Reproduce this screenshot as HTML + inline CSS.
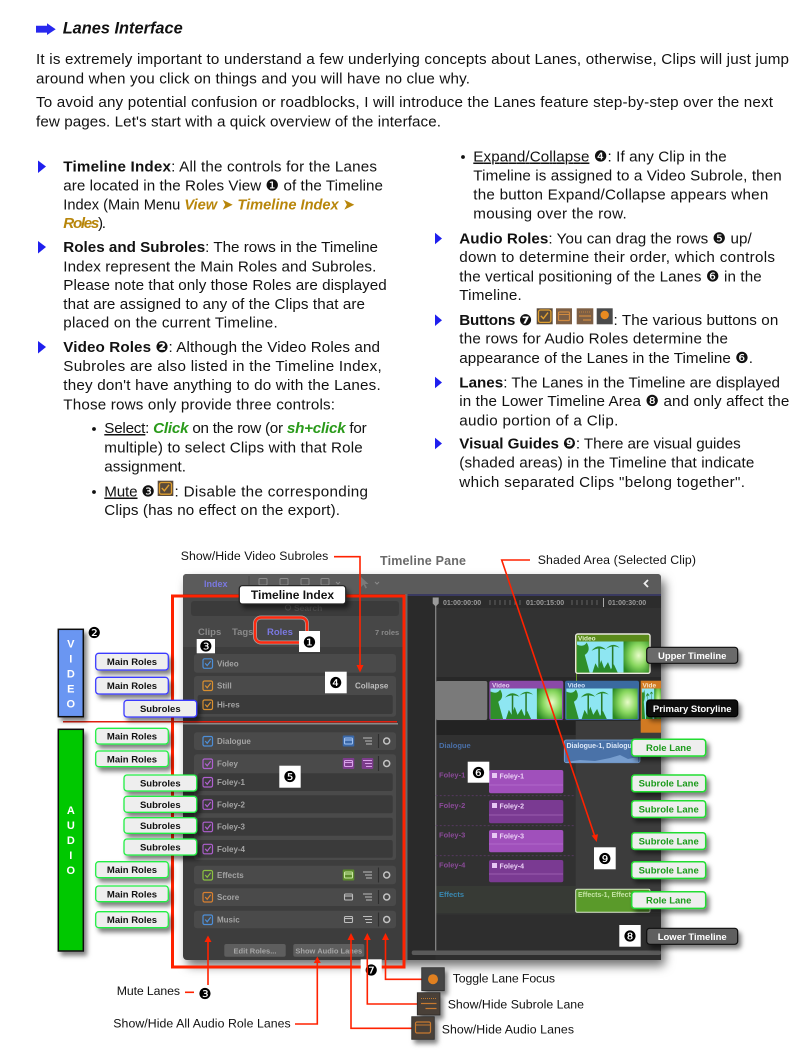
<!DOCTYPE html>
<html><head><meta charset="utf-8">
<style>
html,body{margin:0;padding:0;background:#fff;}
svg{display:block;}
text{font-family:"Liberation Sans","DejaVu Sans",sans-serif;}
.t{font-size:15.2px;fill:#111;}
.b{font-weight:bold;}
.gold{fill:#b8860b;font-weight:bold;font-style:italic;}
.grn{fill:#2a9a1a;font-weight:bold;font-style:italic;}
.ann{font-size:12.3px;fill:#111;}
.lbl{font-size:9.5px;font-weight:bold;text-anchor:middle;}
.ui{font-size:8px;font-weight:bold;fill:#a4a4a4;}
.badge{font-family:"DejaVu Sans",sans-serif;font-size:15px;text-anchor:middle;fill:#000;}
.vl{font-size:11px;font-weight:bold;fill:#fff;text-anchor:middle;}
.lane{font-size:7.5px;font-weight:bold;}
.rl{stroke:#ff2200;stroke-width:1.6;fill:none;}
</style></head><body>
<svg width="807" height="1054" viewBox="0 0 807 1054">
<defs>
<filter id="sh" x="-30%" y="-40%" width="170%" height="200%"><feDropShadow dx="3" dy="4" stdDeviation="2.5" flood-color="#000" flood-opacity="0.5"/></filter>
<filter id="psh" x="-10%" y="-10%" width="125%" height="125%"><feDropShadow dx="4" dy="6" stdDeviation="5" flood-color="#000" flood-opacity="0.55"/></filter>
<radialGradient id="gg" cx="0.6" cy="0.45" r="0.7"><stop offset="0" stop-color="#e8fcc8"/><stop offset="0.5" stop-color="#8ad860"/><stop offset="1" stop-color="#2a8a22"/></radialGradient>
<symbol id="th" viewBox="0 0 74 30" preserveAspectRatio="none">
<rect width="74" height="30" fill="#8ee6f2"/>
<path d="M0,30 L0,3 Q7,6 10,1 Q15,9 8,13 L13,30Z" fill="#2f8f2a"/>
<rect x="22" y="6" width="1.6" height="24" fill="#2a7a2a"/>
<path d="M15,9 Q22,1 30,8 Q22,5 15,9Z" fill="#2a8a2a"/>
<rect x="36" y="4" width="1.6" height="26" fill="#2a7a2a"/>
<path d="M30,7 Q37,0 44,6 Q37,3 30,7Z" fill="#2a8a2a"/>
<path d="M16,30 L19,21 L22,26 L25,18 L28,26 L32,20 L35,27 L38,22 L42,30Z" fill="#2a8a2a"/>
<rect x="48" width="26" height="30" fill="url(#gg)"/>
</symbol>
</defs>

<!-- ===== Header ===== -->
<path d="M36,25.7 H47 V23.3 L55.7,29.2 L47,35 V32.6 H36Z" fill="#2828ee"/>
<text x="62.7" y="33.5" font-size="16.5" font-weight="bold" font-style="italic" fill="#111" textLength="120" lengthAdjust="spacingAndGlyphs">Lanes Interface</text>

<text class="t" x="36" y="64" textLength="753">It is extremely important to understand a few underlying concepts about Lanes, otherwise, Clips will just jump</text>
<text class="t" x="36" y="83.5" textLength="434">around when you click on things and you will have no clue why.</text>
<text class="t" x="36" y="107" textLength="737">To avoid any potential confusion or roadblocks, I will introduce the Lanes feature step-by-step over the next</text>
<text class="t" x="36" y="126.5" textLength="405">few pages. Let's start with a quick overview of the interface.</text>

<!-- ===== Left column ===== -->
<g fill="#1f1fee">
<path d="M38,160.5 L46,166.5 L38,173Z"/>
<path d="M38,241 L46,247 L38,253.5Z"/>
<path d="M38,341 L46,347 L38,353.5Z"/>
<path d="M435,232.7 L442,238.5 L435,244.2Z"/>
<path d="M435,314.4 L442,320.2 L435,326Z"/>
<path d="M435,376.7 L442,382.5 L435,388.2Z"/>
<path d="M435,437.7 L442,443.5 L435,449.2Z"/>
</g>
<text class="t" x="63.3" y="171.5" textLength="313.7"><tspan class="b">Timeline Index</tspan>: All the controls for the Lanes</text>
<text class="t" x="63.3" y="190.5" textLength="319.7">are located in the Roles View ❶ of the Timeline</text>
<text class="t" x="63.3" y="209.5" textLength="291.7" lengthAdjust="spacingAndGlyphs">Index (Main Menu <tspan class="gold">View ➤ Timeline Index ➤</tspan></text>
<text class="t" x="63.3" y="228" textLength="42.7"><tspan class="gold">Roles</tspan>).</text>
<text class="t" x="63.3" y="252" textLength="314.7"><tspan class="b">Roles and Subroles</tspan>: The rows in the Timeline</text>
<text class="t" x="63.3" y="271.5" textLength="313">Index represent the Main Roles and Subroles.</text>
<text class="t" x="63.3" y="290" textLength="323.4">Please note that only those Roles are displayed</text>
<text class="t" x="63.3" y="309" textLength="301.7">that are assigned to any of the Clips that are</text>
<text class="t" x="63.3" y="327.5" textLength="214.4">placed on the current Timeline.</text>
<text class="t" x="63.3" y="352" textLength="316.7"><tspan class="b">Video Roles ❷</tspan>: Although the Video Roles and</text>
<text class="t" x="63.3" y="371" textLength="318.4">Subroles are also listed in the Timeline Index,</text>
<text class="t" x="63.3" y="390" textLength="317.4">they don't have anything to do with the Lanes.</text>
<text class="t" x="63.3" y="409.5" textLength="271.7">Those rows only provide three controls:</text>
<circle cx="94" cy="429" r="1.9" fill="#111"/>
<text class="t" x="104.3" y="433" textLength="262.4"><tspan text-decoration="underline">Select</tspan>: <tspan class="grn">Click</tspan> on the row (or <tspan class="grn">sh+click</tspan> for</text>
<text class="t" x="104.3" y="452.5" textLength="258.4">multiple) to select Clips with that Role</text>
<text class="t" x="104.3" y="471.5" textLength="81.7">assignment.</text>
<circle cx="94" cy="492" r="1.9" fill="#111"/>
<text class="t" x="104.3" y="496.5" textLength="50.7"><tspan text-decoration="underline">Mute</tspan> ❸</text>
<rect x="157.7" y="480.7" width="15.6" height="15.3" fill="#5a4a3a"/>
<rect x="159.5" y="482.5" width="12" height="11.7" rx="2" fill="none" stroke="#e0a030" stroke-width="1.3"/>
<path d="M161.8,488 l2.6,2.8 l4.6,-6" fill="none" stroke="#e0a030" stroke-width="1.4"/>
<text class="t" x="174.5" y="496.5" textLength="193.5">: Disable the corresponding</text>
<text class="t" x="104.3" y="515" textLength="235.7">Clips (has no effect on the export).</text>

<!-- ===== Right column ===== -->
<circle cx="463" cy="157" r="1.9" fill="#111"/>
<text class="t" x="473.3" y="161.5" textLength="253.4"><tspan text-decoration="underline">Expand/Collapse</tspan> ❹: If any Clip in the</text>
<text class="t" x="473.3" y="180.5" textLength="308.4">Timeline is assigned to a Video Subrole, then</text>
<text class="t" x="473.3" y="199.5" textLength="295">the button Expand/Collapse appears when</text>
<text class="t" x="473.3" y="218.5" textLength="153.4">mousing over the row.</text>
<text class="t" x="459.3" y="243.3" textLength="292.4"><tspan class="b">Audio Roles</tspan>: You can drag the rows ❺ up/</text>
<text class="t" x="459.3" y="262" textLength="315.7">down to determine their order, which controls</text>
<text class="t" x="459.3" y="281.5" textLength="302.4">the vertical positioning of the Lanes ❻ in the</text>
<text class="t" x="459.3" y="300" textLength="62.4">Timeline.</text>
<text class="t" x="459.3" y="325" textLength="72.7"><tspan class="b">Buttons ❼</tspan></text>
<!-- button icons -->
<rect x="536.7" y="308.3" width="16" height="16" fill="#5a4a3a"/>
<rect x="538.5" y="310" width="12.4" height="12.4" rx="2" fill="none" stroke="#e0a030" stroke-width="1.3"/>
<path d="M540.8,315.8 l2.6,2.8 l4.6,-6" fill="none" stroke="#e0a030" stroke-width="1.4"/>
<rect x="556" y="308.3" width="16" height="16" fill="#7d5f45"/>
<rect x="558.5" y="312" width="11" height="8.5" rx="1" fill="none" stroke="#d08a40" stroke-width="1.2"/>
<line x1="558.5" y1="314.5" x2="569.5" y2="314.5" stroke="#d08a40" stroke-width="1"/>
<rect x="576.7" y="308.3" width="16.6" height="16" fill="#7d5f45"/>
<line x1="579" y1="312" x2="591" y2="312" stroke="#c08040" stroke-width="1" stroke-dasharray="1,1"/>
<line x1="579" y1="316" x2="591" y2="316" stroke="#d08a40" stroke-width="1.2"/>
<line x1="583" y1="320" x2="591" y2="320" stroke="#d08a40" stroke-width="1.2"/>
<rect x="596.7" y="308.3" width="16" height="16" fill="#4a4a4a"/>
<circle cx="604.7" cy="315" r="4.2" fill="#e88a20"/>
<text class="t" x="613.5" y="325" textLength="164.8">: The various buttons on</text>
<text class="t" x="459.3" y="343.5" textLength="268.7">the rows for Audio Roles determine the</text>
<text class="t" x="459.3" y="363" textLength="293.7">appearance of the Lanes in the Timeline ❻.</text>
<text class="t" x="459.3" y="387.3" textLength="320.7"><tspan class="b">Lanes</tspan>: The Lanes in the Timeline are displayed</text>
<text class="t" x="459.3" y="406" textLength="330">in the Lower Timeline Area ❽ and only affect the</text>
<text class="t" x="459.3" y="425.5" textLength="159">audio portion of a Clip.</text>
<text class="t" x="459.3" y="448.3" textLength="281.4"><tspan class="b">Visual Guides ❾</tspan>: There are visual guides</text>
<text class="t" x="459.3" y="467.3" textLength="295">(shaded areas) in the Timeline that indicate</text>
<text class="t" x="459.3" y="487" textLength="285.7">which separated Clips "belong together".</text>

<!-- ===== Diagram ===== -->
<text class="ann" x="180.7" y="560" textLength="147.6">Show/Hide Video Subroles</text>
<text x="380" y="565" font-size="12.5" font-weight="bold" fill="#6a6a6a" textLength="86">Timeline Pane</text>
<text class="ann" x="537.7" y="564" textLength="158.3">Shaded Area  (Selected Clip)</text>

<!-- panel -->
<rect x="183" y="574" width="478" height="386" rx="4" fill="#3d3d3d" filter="url(#psh)"/>
<rect x="183" y="574" width="478" height="20" rx="3" fill="#5b5b5b"/>
<rect x="183" y="584" width="478" height="10" fill="#5b5b5b"/>
<text x="204" y="587" font-size="9" font-weight="bold" fill="#7a78e0">Index</text>
<line x1="249" y1="576" x2="249" y2="593" stroke="#4a4a4a" stroke-width="1"/>
<g fill="none" stroke="#8a8a8a" stroke-width="1">
<rect x="259" y="578.5" width="8" height="6.5" rx="1"/>
<rect x="280" y="578.5" width="8" height="6.5" rx="1"/>
<rect x="301" y="578.5" width="8" height="6.5" rx="1"/>
<rect x="321" y="578.5" width="8" height="6.5" rx="1"/>
<path d="M336,582 l2,2 l2,-2"/>
<path d="M375,582 l2,2 l2,-2"/>
</g>
<path d="M361,577 l0,10 l2.5,-2.5 l2,4 l1.5,-0.8 l-2,-3.7 l3.5,0Z" fill="#7a7a7a"/>
<path d="M648,580 l-3.5,3.5 l3.5,3.5" fill="none" stroke="#eee" stroke-width="1.8"/>
<rect x="405" y="594" width="256" height="2" fill="#3a3a60"/>

<!-- index panel -->
<rect x="183" y="594" width="222" height="53" fill="#474747"/>
<rect x="191" y="601" width="208" height="15" rx="3" fill="#3b3b3b"/>
<circle cx="288" cy="607.5" r="2.6" fill="none" stroke="#5a5a5a" stroke-width="1"/>
<text x="294" y="611" font-size="8.5" font-weight="bold" fill="#555">Search</text>
<text x="198" y="635" font-size="9.5" font-weight="bold" fill="#8a8a8a">Clips</text>
<text x="232" y="635" font-size="9.5" font-weight="bold" fill="#8a8a8a">Tags</text>
<text x="267" y="635" font-size="9.5" font-weight="bold" fill="#7a78e0">Roles</text>
<text x="375" y="635" font-size="7.5" font-weight="bold" fill="#8a8a8a">7 roles</text>
<rect x="255" y="617.5" width="52" height="25" rx="6" fill="none" stroke="#fff" stroke-width="4" opacity="0.5"/>
<rect x="255" y="617.5" width="52" height="25" rx="6" fill="none" stroke="#ff2a10" stroke-width="2.5"/>

<!-- video rows -->
<rect x="194" y="654" width="202" height="18.7" rx="3" fill="#4a4a4a"/>
<rect x="194" y="676" width="202" height="40.7" rx="3" fill="#4a4a4a"/>
<rect x="197.7" y="695" width="195" height="19" rx="2" fill="#3a3a3a"/>
<g fill="none" stroke-width="1.2">
<rect x="203" y="658.8" width="9.5" height="9.5" rx="1.5" stroke="#4d8fd8"/><path d="M205.2,663.3 l2,2.3 l3.5,-4.5" stroke="#4d8fd8"/>
<rect x="203" y="681" width="9.5" height="9.5" rx="1.5" stroke="#d99030"/><path d="M205.2,685.5 l2,2.3 l3.5,-4.5" stroke="#d99030"/>
<rect x="203" y="700" width="9.5" height="9.5" rx="1.5" stroke="#d99030"/><path d="M205.2,704.5 l2,2.3 l3.5,-4.5" stroke="#d99030"/>
</g>
<text class="ui" x="217" y="666.3">Video</text>
<text class="ui" x="217" y="688.5">Still</text>
<text class="ui" x="217" y="707.5">Hi-res</text>
<text x="355" y="688.5" font-size="8" font-weight="bold" fill="#bdbdbd">Collapse</text>
<rect x="183" y="723" width="215" height="1.5" fill="#8a8a8a"/>

<!-- audio rows -->
<rect x="194" y="732.3" width="202" height="17.7" rx="3" fill="#4a4a4a"/>
<rect x="194" y="754.3" width="202" height="105.7" rx="3" fill="#4a4a4a"/>
<rect x="197.7" y="773.3" width="195" height="17.7" rx="2" fill="#3a3a3a"/>
<rect x="197.7" y="795.3" width="195" height="18" rx="2" fill="#3a3a3a"/>
<rect x="197.7" y="817.7" width="195" height="18" rx="2" fill="#3a3a3a"/>
<rect x="197.7" y="840" width="195" height="17.7" rx="2" fill="#3a3a3a"/>
<rect x="194" y="865.7" width="202" height="18.6" rx="3" fill="#4a4a4a"/>
<rect x="194" y="888.3" width="202" height="17.7" rx="3" fill="#4a4a4a"/>
<rect x="194" y="910.7" width="202" height="17.6" rx="3" fill="#4a4a4a"/>
<g fill="none" stroke-width="1.2">
<rect x="203" y="736.5" width="9.5" height="9.5" rx="1.5" stroke="#4d8fd8"/><path d="M205.2,741 l2,2.3 l3.5,-4.5" stroke="#4d8fd8"/>
<rect x="203" y="759" width="9.5" height="9.5" rx="1.5" stroke="#b060d0"/><path d="M205.2,763.5 l2,2.3 l3.5,-4.5" stroke="#b060d0"/>
<rect x="203" y="777.5" width="9.5" height="9.5" rx="1.5" stroke="#b060d0"/><path d="M205.2,782 l2,2.3 l3.5,-4.5" stroke="#b060d0"/>
<rect x="203" y="799.8" width="9.5" height="9.5" rx="1.5" stroke="#b060d0"/><path d="M205.2,804.3 l2,2.3 l3.5,-4.5" stroke="#b060d0"/>
<rect x="203" y="822.2" width="9.5" height="9.5" rx="1.5" stroke="#b060d0"/><path d="M205.2,826.7 l2,2.3 l3.5,-4.5" stroke="#b060d0"/>
<rect x="203" y="844.3" width="9.5" height="9.5" rx="1.5" stroke="#b060d0"/><path d="M205.2,848.8 l2,2.3 l3.5,-4.5" stroke="#b060d0"/>
<rect x="203" y="870.5" width="9.5" height="9.5" rx="1.5" stroke="#8ac040"/><path d="M205.2,875 l2,2.3 l3.5,-4.5" stroke="#8ac040"/>
<rect x="203" y="892.5" width="9.5" height="9.5" rx="1.5" stroke="#d98030"/><path d="M205.2,897 l2,2.3 l3.5,-4.5" stroke="#d98030"/>
<rect x="203" y="915" width="9.5" height="9.5" rx="1.5" stroke="#4d8fd8"/><path d="M205.2,919.5 l2,2.3 l3.5,-4.5" stroke="#4d8fd8"/>
</g>
<text class="ui" x="217" y="744">Dialogue</text>
<text class="ui" x="217" y="766.5">Foley</text>
<text class="ui" x="217" y="785">Foley-1</text>
<text class="ui" x="217" y="807.3">Foley-2</text>
<text class="ui" x="217" y="829.7">Foley-3</text>
<text class="ui" x="217" y="851.8">Foley-4</text>
<text class="ui" x="217" y="878">Effects</text>
<text class="ui" x="217" y="900">Score</text>
<text class="ui" x="217" y="922.5">Music</text>
<!-- row icons -->
<rect x="342.7" y="735.5" width="11.6" height="11" rx="1" fill="#3a68a8"/>
<rect x="342.7" y="758" width="11.6" height="11" rx="1" fill="#7c3c8c"/>
<rect x="361.7" y="758" width="11.6" height="11" rx="1" fill="#7c3c8c"/>
<rect x="342.7" y="869.5" width="11.6" height="11" rx="1" fill="#5a8a2a"/>
<g fill="none" stroke-width="1.1">
<g stroke="#9ec0f0"><rect x="344.5" y="738" width="8" height="6" rx="1"/><line x1="344.5" y1="740" x2="352.5" y2="740"/></g>
<g stroke="#d8a0e8"><rect x="344.5" y="760.5" width="8" height="6" rx="1"/><line x1="344.5" y1="762.5" x2="352.5" y2="762.5"/></g>
<g stroke="#c8e8a0"><rect x="344.5" y="872" width="8" height="6" rx="1"/><line x1="344.5" y1="874" x2="352.5" y2="874"/></g>
<g stroke="#bcbcbc"><rect x="344.5" y="894" width="8" height="6" rx="1"/><line x1="344.5" y1="896" x2="352.5" y2="896"/></g>
<g stroke="#bcbcbc"><rect x="344.5" y="916.5" width="8" height="6" rx="1"/><line x1="344.5" y1="918.5" x2="352.5" y2="918.5"/></g>
<g stroke="#bcbcbc"><path d="M363,738 h9 M365,741 h7 M366,744 h6"/><path d="M363,872 h9 M365,875 h7 M366,878 h6"/><path d="M363,894 h9 M365,897 h7 M366,900 h6"/><path d="M363,916.5 h9 M365,919.5 h7 M366,922.5 h6"/></g>
<g stroke="#d8a0e8"><path d="M363,760.5 h9 M365,763.5 h7 M366,766.5 h6"/></g>
<g stroke="#2e2e2e"><line x1="378.5" y1="734" x2="378.5" y2="748"/><line x1="378.5" y1="756" x2="378.5" y2="771"/><line x1="378.5" y1="867.5" x2="378.5" y2="882.5"/><line x1="378.5" y1="890" x2="378.5" y2="904"/><line x1="378.5" y1="912.5" x2="378.5" y2="926.5"/></g>
<g stroke="#c4c4c4" stroke-width="1.5"><circle cx="386.7" cy="741" r="3"/><circle cx="386.7" cy="763.5" r="3"/><circle cx="386.7" cy="875" r="3"/><circle cx="386.7" cy="897" r="3"/><circle cx="386.7" cy="919.5" r="3"/></g>
</g>
<rect x="224.3" y="944" width="61.4" height="12.7" rx="2" fill="#5e5e5e"/>
<text x="255" y="953.3" font-size="7.5" font-weight="bold" fill="#a6a6a6" text-anchor="middle">Edit Roles...</text>
<rect x="293.3" y="944" width="71" height="12.7" rx="2" fill="#5e5e5e"/>
<text x="328.8" y="953.3" font-size="7.5" font-weight="bold" fill="#a6a6a6" text-anchor="middle">Show Audio Lanes</text>

<!-- timeline area -->
<rect x="407" y="596" width="254" height="364" fill="#323232"/>
<rect x="407" y="596" width="28.7" height="364" fill="#2a2a2a"/>
<rect x="435.7" y="596" width="225.3" height="12" fill="#2c2c2c"/>
<rect x="435.7" y="677" width="225.3" height="44" fill="#282828"/>
<rect x="435.7" y="721" width="225.3" height="14" fill="#232323"/>
<rect x="435.7" y="735" width="225.3" height="180" fill="#313131"/>
<rect x="435.7" y="886" width="225.3" height="27.3" fill="#373a35"/>
<rect x="575.7" y="721" width="85.3" height="192" fill="#3c3c3c"/>
<rect x="435.7" y="915" width="225.3" height="45" fill="#2e2e2e"/>
<rect x="405" y="594" width="2.5" height="366" fill="#686868"/>
<g font-size="7" font-weight="bold" fill="#9a9a9a">
<text x="443" y="605">01:00:00:00</text>
<text x="526" y="605">01:00:15:00</text>
<text x="608" y="605">01:00:30:00</text>
</g>
<g stroke="#707070" stroke-width="0.8">
<path d="M490,600v5 M495,600v5 M500,600v5 M505,600v5 M510,600v5 M515,600v5 M520,600v5 M572,600v5 M577,600v5 M582,600v5 M587,600v5 M592,600v5 M597,600v5"/>
</g>
<line x1="603.5" y1="598" x2="603.5" y2="607" stroke="#aaa" stroke-width="1"/>
<line x1="435.7" y1="604" x2="435.7" y2="952" stroke="#8a8a8a" stroke-width="1.2"/>
<path d="M432.7,597.5 h6 v6 l-3,3 l-3,-3Z" fill="#9a9a9a"/>
<!-- lane dividers -->
<g stroke="#5a3a66" stroke-width="0.8" stroke-dasharray="2,2">
<line x1="435.7" y1="795.7" x2="575.7" y2="795.7"/>
<line x1="435.7" y1="825.7" x2="575.7" y2="825.7"/>
<line x1="435.7" y1="855.7" x2="575.7" y2="855.7"/>
</g>
<rect x="411.7" y="950.5" width="249.3" height="4.5" rx="2" fill="#5a5a5a"/>

<!-- storyline clips -->
<rect x="435.7" y="681" width="51.6" height="39" rx="2" fill="#7a7a7a"/>
<rect x="489.3" y="680.7" width="74" height="39.3" rx="2" fill="#8a4aa8"/>
<text x="492" y="687.3" font-size="6.5" font-weight="bold" fill="#e4ccf0">Video</text>
<use href="#th" x="490.5" y="688.5" width="71.5" height="30.5"/>
<rect x="565" y="680.7" width="74" height="39.3" rx="2" fill="#3a6aa0"/>
<text x="567.5" y="687.3" font-size="6.5" font-weight="bold" fill="#d0e0f8">Video</text>
<use href="#th" x="566.2" y="688.5" width="71.5" height="30.5"/>
<rect x="640.7" y="680.7" width="20.3" height="52" fill="#d27a22"/>
<text x="642.5" y="687.3" font-size="6.5" font-weight="bold" fill="#f8e0c0">Vide</text>
<use href="#th" x="641.7" y="688.5" width="19.3" height="30.5"/>
<line x1="576.5" y1="673" x2="576.5" y2="681" stroke="#6a9a2a" stroke-width="1"/>
<!-- upper clip -->
<rect x="575.7" y="634" width="74.3" height="39.3" rx="2" fill="#5a8a1a" stroke="#e8e8dc" stroke-width="1.4"/>
<text x="578" y="640.3" font-size="6.5" font-weight="bold" fill="#e0f0c8">Video</text>
<use href="#th" x="577" y="641.5" width="71.7" height="31"/>

<!-- lanes -->
<text class="lane" x="439" y="748" fill="#4a70a8">Dialogue</text>
<rect x="564.3" y="740" width="75.7" height="22.7" rx="2" fill="#4a72a8" stroke="#7ea4d4" stroke-width="0.8"/>
<text x="566.5" y="748" font-size="7" font-weight="bold" fill="#dce8f8">Dialogue-1, Dialogu</text>
<path d="M566,762 L580,760 L595,761 L610,758 L620,755 L628,759 L638,757 L638,762Z" fill="#8ab0e0" opacity="0.7"/>
<text class="lane" x="439" y="777.5" fill="#8a4a98">Foley-1</text>
<text class="lane" x="439" y="808" fill="#8a4a98">Foley-2</text>
<text class="lane" x="439" y="837.5" fill="#8a4a98">Foley-3</text>
<text class="lane" x="439" y="867.5" fill="#8a4a98">Foley-4</text>
<rect x="489" y="770" width="74.3" height="23.3" rx="2" fill="#a050bb"/>
<rect x="489" y="800" width="74.3" height="23.3" rx="2" fill="#7a3a92"/>
<rect x="489" y="830" width="74.3" height="22.3" rx="2" fill="#a050bb"/>
<rect x="489" y="860" width="74.3" height="22.3" rx="2" fill="#7a3a92"/>
<g fill="#e8c8f4">
<rect x="492" y="773" width="5" height="5"/><rect x="492" y="803" width="5" height="5"/><rect x="492" y="833" width="5" height="5"/><rect x="492" y="863" width="5" height="5"/>
</g>
<g font-size="7" font-weight="bold" fill="#ecd2f6">
<text x="499.5" y="778.3">Foley-1</text><text x="499.5" y="808.3">Foley-2</text><text x="499.5" y="838.3">Foley-3</text><text x="499.5" y="868.3">Foley-4</text>
</g>
<g stroke="#c890dc" stroke-width="0.6" opacity="0.8">
<line x1="489" y1="785" x2="563" y2="785"/><line x1="489" y1="815" x2="563" y2="815"/><line x1="489" y1="844" x2="563" y2="844"/><line x1="489" y1="874" x2="563" y2="874"/>
</g>
<text class="lane" x="439" y="897" fill="#3a88b0">Effects</text>
<rect x="575.7" y="889.3" width="74.3" height="23" rx="1.5" fill="#5a9a2a" stroke="#d8e8c8" stroke-width="1"/>
<text x="578" y="897" font-size="7" font-weight="bold" fill="#c4e4a4">Effects-1, Effect</text>

<!-- red Timeline Index rect -->
<rect x="172.5" y="596" width="231.5" height="371" fill="none" stroke="#ff2200" stroke-width="3"/>
<!-- red separator -->
<line x1="63" y1="721.7" x2="397" y2="721.7" stroke="#e02010" stroke-width="1.5"/>

<!-- Timeline Index label -->
<rect x="239.3" y="585.7" width="106.4" height="18.3" rx="3" fill="#fff" stroke="#222" stroke-width="1.2" filter="url(#sh)"/>
<text x="292.5" y="599" font-size="12" font-weight="bold" fill="#111" text-anchor="middle">Timeline Index</text>

<!-- badges -->
<g fill="#fff">
<rect x="299" y="631" width="21" height="21"/>
<rect x="196.7" y="639" width="18.3" height="14.3"/>
<rect x="325" y="671.7" width="21.7" height="21.6"/>
<rect x="279.3" y="765.7" width="21.4" height="22"/>
<rect x="85" y="623.3" width="18.3" height="18.4"/>
<rect x="467.7" y="761.7" width="21.6" height="21"/>
<rect x="594" y="847.3" width="21.7" height="22"/>
<rect x="619.3" y="925" width="21.4" height="21.7"/>
<rect x="360.7" y="959.3" width="21" height="20.7"/>
</g>
<text class="badge" x="309.5" y="647.5">❶</text>
<text class="badge" x="205.8" y="651.5" font-size="13">❸</text>
<text class="badge" x="335.8" y="688">❹</text>
<text class="badge" x="290" y="782">❺</text>
<text class="badge" x="94.2" y="638">❷</text>
<text class="badge" x="478.5" y="778">❻</text>
<text class="badge" x="604.8" y="864">❾</text>
<text class="badge" x="630" y="941.5">❽</text>
<text class="badge" x="371.2" y="975.5">❼</text>

<!-- right labels -->
<g filter="url(#sh)">
<rect x="646.7" y="647.3" width="91" height="16" rx="3" fill="#6a6a6a" stroke="#111" stroke-width="1.2"/>
<rect x="646.7" y="700" width="91" height="16.7" rx="3" fill="#111" stroke="#000" stroke-width="1.2"/>
<rect x="646.7" y="928.3" width="91" height="16" rx="3" fill="#5e5e5e" stroke="#111" stroke-width="1.2"/>
</g>
<text class="lbl" x="692.2" y="658.8" fill="#fff">Upper Timeline</text>
<text class="lbl" x="692.2" y="711.8" fill="#fff">Primary Storyline</text>
<text class="lbl" x="692.2" y="939.8" fill="#fff">Lower Timeline</text>
<g filter="url(#sh)" fill="#eeeeee" stroke="#22dd33" stroke-width="1.5">
<rect x="631.7" y="739.3" width="74" height="16.7" rx="3"/>
<rect x="631.7" y="775" width="74" height="16.7" rx="3"/>
<rect x="631.7" y="800.7" width="74" height="16.7" rx="3"/>
<rect x="631.7" y="832.7" width="74" height="16.7" rx="3"/>
<rect x="631.7" y="861.7" width="74" height="16.7" rx="3"/>
<rect x="631.7" y="891.7" width="74" height="16.7" rx="3"/>
</g>
<g fill="#1a9a1a">
<text class="lbl" x="668.7" y="751">Role Lane</text>
<text class="lbl" x="668.7" y="786.7">Subrole Lane</text>
<text class="lbl" x="668.7" y="812.4">Subrole Lane</text>
<text class="lbl" x="668.7" y="844.4">Subrole Lane</text>
<text class="lbl" x="668.7" y="873.4">Subrole Lane</text>
<text class="lbl" x="668.7" y="903.4">Role Lane</text>
</g>

<!-- left VIDEO / AUDIO -->
<g filter="url(#sh)">
<rect x="58.3" y="629.3" width="25" height="87.4" fill="#6a96f2" stroke="#111" stroke-width="1.5"/>
<rect x="58.3" y="729.3" width="25" height="221.7" fill="#00c800" stroke="#111" stroke-width="1.5"/>
</g>
<text class="vl" x="70.8" y="647.3">V</text>
<text class="vl" x="70.8" y="662.3">I</text>
<text class="vl" x="70.8" y="677.3">D</text>
<text class="vl" x="70.8" y="692.3">E</text>
<text class="vl" x="70.8" y="707.3">O</text>
<text class="vl" x="70.8" y="814">A</text>
<text class="vl" x="70.8" y="829">U</text>
<text class="vl" x="70.8" y="844">D</text>
<text class="vl" x="70.8" y="859">I</text>
<text class="vl" x="70.8" y="874">O</text>

<g filter="url(#sh)" fill="#eeeeee" stroke-width="1.3">
<rect x="95.7" y="653.3" width="72.6" height="16.7" rx="3" stroke="#3b3bff"/>
<rect x="95.7" y="677.3" width="72.6" height="16.7" rx="3" stroke="#3b3bff"/>
<rect x="124" y="700.3" width="72.7" height="16.7" rx="3" stroke="#3b3bff"/>
<rect x="95.7" y="728.3" width="72.6" height="15.7" rx="3" stroke="#22ee44"/>
<rect x="95.7" y="751" width="72.6" height="15.7" rx="3" stroke="#22ee44"/>
<rect x="124" y="775" width="72.7" height="16" rx="3" stroke="#22ee44"/>
<rect x="124" y="796.3" width="72.7" height="16" rx="3" stroke="#22ee44"/>
<rect x="124" y="817.7" width="72.7" height="15.6" rx="3" stroke="#22ee44"/>
<rect x="124" y="839" width="72.7" height="16" rx="3" stroke="#22ee44"/>
<rect x="95.7" y="861.7" width="72.6" height="16" rx="3" stroke="#22ee44"/>
<rect x="95.7" y="886" width="72.6" height="15.7" rx="3" stroke="#22ee44"/>
<rect x="95.7" y="911.7" width="72.6" height="16" rx="3" stroke="#22ee44"/>
</g>
<g fill="#111">
<text class="lbl" x="132" y="665">Main Roles</text>
<text class="lbl" x="132" y="689">Main Roles</text>
<text class="lbl" x="160.3" y="712">Subroles</text>
<text class="lbl" x="132" y="739.6">Main Roles</text>
<text class="lbl" x="132" y="762.3">Main Roles</text>
<text class="lbl" x="160.3" y="786.5">Subroles</text>
<text class="lbl" x="160.3" y="807.8">Subroles</text>
<text class="lbl" x="160.3" y="829">Subroles</text>
<text class="lbl" x="160.3" y="850.5">Subroles</text>
<text class="lbl" x="132" y="873.2">Main Roles</text>
<text class="lbl" x="132" y="897.3">Main Roles</text>
<text class="lbl" x="132" y="923.2">Main Roles</text>
</g>

<!-- red annotation lines -->
<polyline class="rl" points="334,556.7 360,556.7 360,667"/>
<path d="M356.5,665 L360,672.5 L363.5,665Z" fill="#ff2200"/>
<polyline class="rl" points="530,560 501.7,560 595,837"/>
<path d="M591.6,835.5 L596.7,842 L598,834.3Z" fill="#ff2200"/>
<!-- mute -->
<line class="rl" x1="208" y1="940" x2="208" y2="985"/>
<path d="M204.5,942 L208,935.5 L211.5,942Z" fill="#ff2200"/>
<!-- show all -->
<polyline class="rl" points="295,1024 317.3,1024 317.3,961"/>
<path d="M313.8,963 L317.3,956.5 L320.8,963Z" fill="#ff2200"/>
<!-- audio lanes -->
<polyline class="rl" points="351,938 351,1028.3 411.7,1028.3"/>
<path d="M347.5,940 L351,933 L354.5,940Z" fill="#ff2200"/>
<!-- subrole -->
<polyline class="rl" points="367.3,938 367.3,1004 417.3,1004"/>
<path d="M363.8,940 L367.3,933 L370.8,940Z" fill="#ff2200"/>
<!-- focus -->
<polyline class="rl" points="385.5,938 385.5,979.3 421.7,979.3"/>
<path d="M382,940 L385.5,933 L389,940Z" fill="#ff2200"/>

<!-- bottom annotations -->
<text class="ann" x="116.7" y="995" textLength="63.3">Mute Lanes</text>
<line x1="185" y1="992.3" x2="194" y2="992.3" stroke="#ff2200" stroke-width="1.6"/>
<text class="badge" x="205" y="999" font-size="13">❸</text>
<text class="ann" x="113.3" y="1027.3" textLength="177.4">Show/Hide All Audio Role Lanes</text>

<g filter="url(#sh)">
<rect x="421.7" y="967.7" width="22.6" height="23" fill="#454545" stroke="#2a2a2a" stroke-width="0.8"/>
<rect x="417.3" y="992.7" width="22.7" height="22.3" fill="#4a3f38" stroke="#2a2a2a" stroke-width="0.8"/>
<rect x="411.7" y="1016.7" width="22.6" height="22.6" fill="#4a3f38" stroke="#2a2a2a" stroke-width="0.8"/>
</g>
<circle cx="433" cy="979.2" r="5" fill="#e08020"/>
<line x1="421" y1="998.5" x2="436.5" y2="998.5" stroke="#c07a30" stroke-width="1" stroke-dasharray="1,1"/>
<line x1="421" y1="1003.5" x2="436.5" y2="1003.5" stroke="#c87a30" stroke-width="1.2"/>
<line x1="425.5" y1="1008.5" x2="436.5" y2="1008.5" stroke="#c87a30" stroke-width="1.2"/>
<rect x="415.5" y="1022" width="15" height="11" rx="1.5" fill="none" stroke="#c87a30" stroke-width="1.2"/>
<line x1="415.5" y1="1025" x2="430.5" y2="1025" stroke="#c87a30" stroke-width="1"/>
<text class="ann" x="452.7" y="982.3" textLength="102.3">Toggle Lane Focus</text>
<text class="ann" x="447.7" y="1008.3" textLength="136.3">Show/Hide Subrole Lane</text>
<text class="ann" x="441.7" y="1033.3" textLength="132.3">Show/Hide Audio Lanes</text>
</svg>
</body></html>
